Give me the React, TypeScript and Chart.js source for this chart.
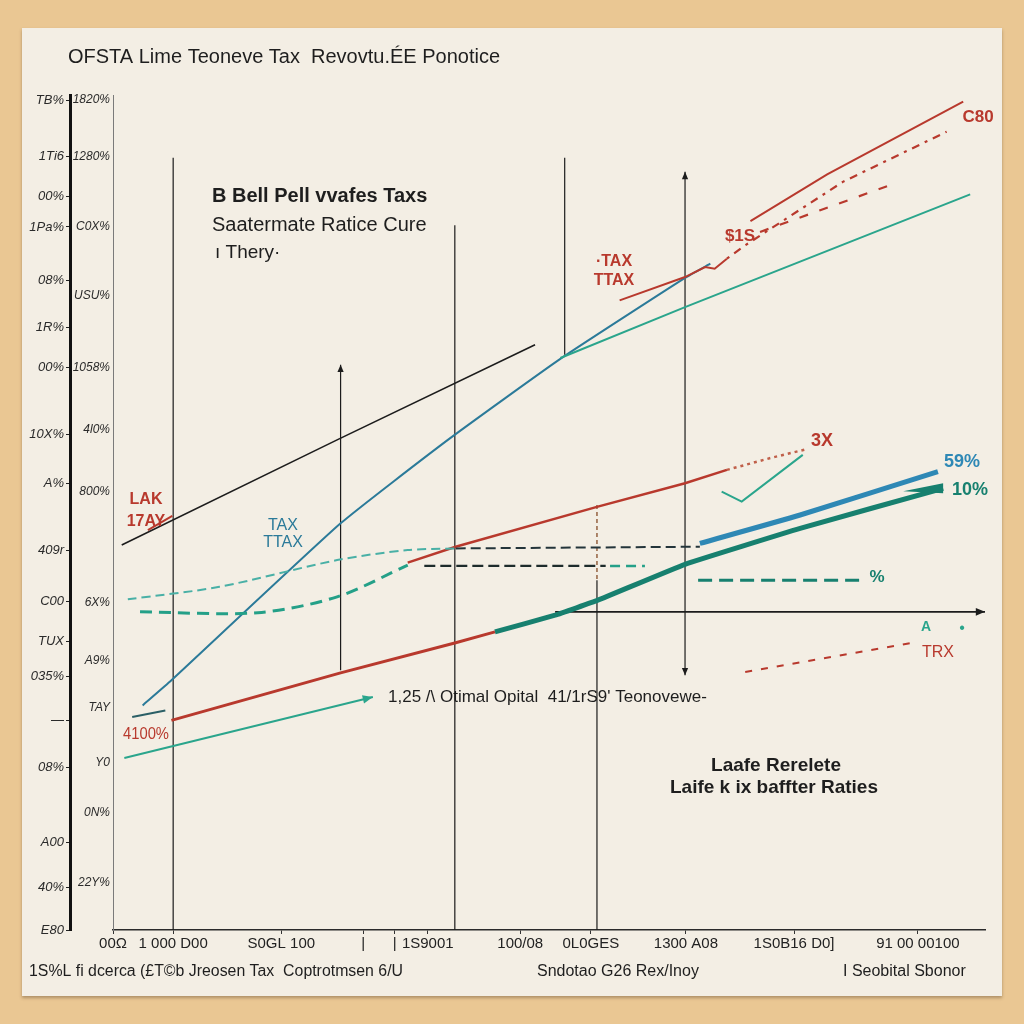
import React, { useEffect, useRef } from "react";
import { Chart, registerables } from "chart.js";
Chart.register(...registerables);

// ---------- tick data ----------
const xTickValues = [0, 6.9, 19.3, 28.7, 32.3, 36.1, 46.7, 54.8, 65.7, 78.1, 92.3];
const xTickLabels = ["00Ω", "1 000 D00", "S0GL 100", "|", "|", "1S9001", "100/08", "0L0GES", "1300 A08", "1S0B16 D0]", "91 00 00100"];

const yOuterValues = [99.4, 92.6, 87.8, 84.2, 77.8, 72.2, 67.4, 59.3, 53.5, 45.5, 39.3, 34.6, 30.4, 25.1, 19.5, 10.5, 5.1, 0];
const yOuterLabels = ["TB%", "1Ti6", "00%", "1Pa%", "08%", "1R%", "00%", "10X%", "A%", "409r", "C00", "TUX", "035%", "—", "08%", "A00", "40%", "E80"];

const yInnerValues = [99.5, 92.6, 84.2, 76.0, 67.4, 59.9, 52.5, 39.2, 32.3, 26.6, 20.0, 14.1, 5.7];
const yInnerLabels = ["1820%", "1280%", "C0X%", "USU%", "1058%", "4l0%", "800%", "6X%", "A9%", "TAY", "Y0", "0N%", "22Y%"];

// ---------- series ----------
const blackX = [1.0, 25.7, 48.4];
const blackY = [46.1, 58.7, 70.1];
const redShortX = [4.0, 6.8];
const redShortY = [47.9, 49.6];
const blueSteepX = [3.4, 6.7, 26.1, 38.4, 51.3, 65.6, 68.5];
const blueSteepY = [26.9, 29.9, 48.7, 58.7, 68.4, 78.1, 79.8];
const redMergeX = [58.1, 65.6, 67.9, 69.0, 70.4];
const redMergeY = [75.4, 78.2, 79.4, 79.2, 80.4];
const redTopX = [73.1, 81.9, 97.5];
const redTopY = [84.9, 90.5, 99.2];
const redDotX = [70.4, 72.5, 83.7, 95.6];
const redDotY = [80.4, 82.0, 89.6, 95.6];
const redDash2X = [74.2, 81.1, 89.1];
const redDash2Y = [83.6, 86.2, 89.2];
const tealUpperX = [51.3, 65.6, 98.3];
const tealUpperY = [68.5, 74.6, 88.1];
const redMidX = [33.8, 39.3, 55.6, 65.6, 70.4];
const redMidY = [44.0, 45.9, 50.7, 53.5, 55.1];
const redMidDashX = [70.4, 75.3, 79.6];
const redMidDashY = [55.1, 56.5, 57.6];
const tealCheckX = [69.8, 72.1, 79.1];
const tealCheckY = [52.5, 51.3, 56.9];
const blue59X = [67.3, 78.8, 94.6];
const blue59Y = [46.3, 49.7, 54.9];
const redLowX = [6.7, 26.1, 39.3, 43.8];
const redLowY = [25.1, 30.8, 34.4, 35.7];
const tealThickX = [43.8, 50.7, 55.6, 65.6, 78.8, 95.2];
const tealThickY = [35.7, 37.7, 39.5, 43.8, 48.1, 52.9];
const tealDashUpX = [1.7, 12.2, 25.7, 33.8, 39.3];
const tealDashUpY = [39.6, 41.1, 44.3, 45.5, 45.7];
const blackDashUpX = [39.3, 67.3];
const blackDashUpY = [45.7, 45.9];
const tealDashLowX = [3.1, 16.6, 25.7, 33.8];
const tealDashLowY = [38.1, 38.0, 39.9, 43.7];
const blackDashLowX = [35.7, 56.5];
const blackDashLowY = [43.6, 43.6];
const tealDashShortX = [57.0, 61.0];
const tealDashShortY = [43.6, 43.6];
const tealDashRightX = [67.1, 85.7];
const tealDashRightY = [41.9, 41.9];
const axisArrowX = [50.7, 100];
const axisArrowY = [38.1, 38.1];
const tealThinX = [1.3, 29.8];
const tealThinY = [20.6, 27.9];
const smallDashX = [2.2, 6.0];
const smallDashY = [25.5, 26.3];
const redBelowX = [72.5, 91.7];
const redBelowY = [30.9, 34.4];

// vertical guide lines
const vLineX = [6.9, 26.1, 39.2, 51.8, 55.5, 65.6];
const vLineTop = [92.5, 67.7, 84.4, 92.5, 41.9, 90.8];
const vLineBottom = [0, 31.1, 0, 68.9, 0, 30.5];
const vDashX = [55.5, 55.5];
const vDashY = [50.9, 41.9];

const RED = "#b8392d";
const BLUE = "#2b7a99";
const TEAL = "#2aa58c";
const TEAL_DARK = "#17806f";
const BLUE59 = "#2e88b5";
const BLACK = "#1c1c1c";
const FONT = "'Liberation Sans Narrow', 'Liberation Sans', Arial, sans-serif";

const pts = (xs: number[], ys: number[]) => xs.map((x, i) => ({ x, y: ys[i] }));

function ds(label: string, xs: number[], ys: number[], color: string, width: number, extra: any = {}) {
  return {
    label,
    data: pts(xs, ys),
    showLine: true,
    borderColor: color,
    backgroundColor: color,
    borderWidth: width,
    pointRadius: 0,
    fill: false,
    clip: false,
    ...extra,
  };
}

const annotPlugin = {
  id: "annot",
  afterDatasetsDraw(chart: any) {
    const ctx = chart.ctx as CanvasRenderingContext2D;
    const sx = chart.scales.x;
    const sy = chart.scales.y;
    const px = (v: number) => sx.getPixelForValue(v);
    const py = (v: number) => sy.getPixelForValue(v);

    const arrow = (x1: number, y1: number, x2: number, y2: number, color: string, size = 9) => {
      const a = Math.atan2(y2 - y1, x2 - x1);
      ctx.save();
      ctx.fillStyle = color;
      ctx.beginPath();
      ctx.moveTo(x2, y2);
      ctx.lineTo(x2 - size * Math.cos(a - 0.4), y2 - size * Math.sin(a - 0.4));
      ctx.lineTo(x2 - size * Math.cos(a + 0.4), y2 - size * Math.sin(a + 0.4));
      ctx.closePath();
      ctx.fill();
      ctx.restore();
    };
    arrow(px(axisArrowX[0]), py(axisArrowY[0]), px(axisArrowX[1]), py(axisArrowY[1]), BLACK, 10);
    arrow(px(tealThinX[0]), py(tealThinY[0]), px(tealThinX[1]), py(tealThinY[1]), TEAL, 11);
    arrow(px(vLineX[1]), py(vLineBottom[1]), px(vLineX[1]), py(vLineTop[1]), BLACK, 8);
    arrow(px(vLineX[5]), py(vLineBottom[5]), px(vLineX[5]), py(vLineTop[5]), BLACK, 8);
    arrow(px(vLineX[5]), py(vLineTop[5]), px(vLineX[5]), py(vLineBottom[5]), BLACK, 8);
    {
      const n = tealThickX.length - 1;
      const x2 = px(tealThickX[n]), y2 = py(tealThickY[n]);
      ctx.save();
      ctx.fillStyle = TEAL_DARK;
      ctx.beginPath();
      ctx.moveTo(x2 - 40, y2 + 3);
      ctx.lineTo(x2, y2 - 5);
      ctx.lineTo(x2, y2 + 5);
      ctx.closePath();
      ctx.fill();
      ctx.restore();
    }

    const t = (
      text: string,
      x: number,
      y: number,
      o: { size?: number; bold?: boolean; color?: string; align?: CanvasTextAlign; maxW?: number; italic?: boolean } = {}
    ) => {
      ctx.save();
      ctx.font = `${o.italic ? "italic " : ""}${o.bold ? "bold " : ""}${o.size || 15}px ${FONT}`;
      ctx.fillStyle = o.color || "#1e1e1e";
      ctx.textAlign = o.align || "left";
      ctx.textBaseline = "middle";
      if (o.maxW) ctx.fillText(text, x, y, o.maxW);
      else ctx.fillText(text, x, y);
      ctx.restore();
    };

    t("OFSTA Lime Teoneve Tax  Revovtu.ÉE Ponotice", 68, 57, { size: 20, maxW: 440 });
    t("B Bell Pell vvafes Taxs", 212, 196, { size: 20, bold: true, maxW: 236 });
    t("Saatermate Ratice Cure", 212, 225, { size: 20, maxW: 230 });
    t("ı Thery·", 215, 253, { size: 19, maxW: 82 });

    t("LAK", 146, 500, { size: 16, bold: true, color: RED, align: "center" });
    t("17AY", 146, 522, { size: 16, bold: true, color: RED, align: "center" });
    t("TAX", 283, 526, { size: 16, color: BLUE, align: "center" });
    t("TTAX", 283, 543, { size: 16, color: BLUE, align: "center" });
    t("·TAX", 614, 262, { size: 16, bold: true, color: RED, align: "center" });
    t("TTAX", 614, 281, { size: 16, bold: true, color: RED, align: "center" });
    t("$1S", 740, 236, { size: 17, bold: true, color: RED, align: "center" });
    t("C80", 978, 117, { size: 17, bold: true, color: RED, align: "center" });
    t("3X", 822, 441, { size: 18, bold: true, color: RED, align: "center" });
    t("59%", 962, 462, { size: 18, bold: true, color: BLUE59, align: "center" });
    t("10%", 970, 490, { size: 18, bold: true, color: TEAL_DARK, align: "center" });
    t("%", 877, 577, { size: 17, bold: true, color: TEAL_DARK, align: "center" });
    t("TRX", 938, 653, { size: 16, color: RED, align: "center" });
    t("A", 926, 627, { size: 14, bold: true, color: TEAL, align: "center" });
    t("•", 962, 629, { size: 16, color: TEAL, align: "center" });
    t("4100%", 146, 735, { size: 16, color: RED, align: "center", maxW: 46 });
    t("1,25 /\\ Otimal Opital  41/1rS9' Teonovewe-", 388, 697, { size: 17, maxW: 372 });
    t("Laafe Rerelete", 776, 766, { size: 19, bold: true, align: "center", maxW: 158 });
    t("Laife k ix baffter Raties", 774, 788, { size: 19, bold: true, align: "center", maxW: 250 });

    t("1S%L fi dcerca (£T©b Jreosen Tax  Coptrotmsen 6/U", 29, 972, { size: 16, maxW: 374 });
    t("Sndotao G26 Rex/Inoy", 537, 972, { size: 16, maxW: 186 });
    t("I Seobital Sbonor", 843, 972, { size: 16, maxW: 150 });
  },
};

export default function App() {
  const ref = useRef<HTMLCanvasElement>(null);

  useEffect(() => {
    if (!ref.current) return;
    const outerMap = new Map(yOuterValues.map((v, i) => [v, yOuterLabels[i]]));
    const innerMap = new Map(yInnerValues.map((v, i) => [v, yInnerLabels[i]]));
    const xMap = new Map(xTickValues.map((v, i) => [v, xTickLabels[i]]));

    const datasets: any[] = [
      ds("black", blackX, blackY, BLACK, 1.6),
      ds("redShort", redShortX, redShortY, RED, 2),
      ds("tealDashUp", tealDashUpX, tealDashUpY, "#49b0a6", 2, { borderDash: [9, 5], tension: 0.3 }),
      ds("tealDashLow", tealDashLowX, tealDashLowY, "#24a088", 3, { borderDash: [12, 7], tension: 0.3 }),
      ds("blackDashUp", blackDashUpX, blackDashUpY, "#23343a", 2, { borderDash: [10, 5] }),
      ds("blackDashLow", blackDashLowX, blackDashLowY, "#1d2b2b", 2.2, { borderDash: [11, 5] }),
      ds("tealDashShort", tealDashShortX, tealDashShortY, "#24a088", 2.5, { borderDash: [10, 6] }),
      ds("tealDashRight", tealDashRightX, tealDashRightY, TEAL_DARK, 3, { borderDash: [14, 7] }),
      ds("redLow", redLowX, redLowY, RED, 3),
      ds("tealThick", tealThickX, tealThickY, TEAL_DARK, 5, { tension: 0.1 }),
      ds("blue59", blue59X, blue59Y, BLUE59, 5, { tension: 0.2 }),
      ds("redMid", redMidX, redMidY, RED, 2.5),
      ds("redMidDash", redMidDashX, redMidDashY, "#c0604a", 2.5, { borderDash: [3, 4] }),
      ds("tealCheck", tealCheckX, tealCheckY, TEAL, 2),
      ds("tealUpper", tealUpperX, tealUpperY, TEAL, 2),
      ds("redMerge", redMergeX, redMergeY, RED, 2),
      ds("blueSteep", blueSteepX, blueSteepY, BLUE, 2, { tension: 0.15 }),
      ds("redTop", redTopX, redTopY, RED, 2),
      ds("redDot", redDotX, redDotY, RED, 2.2, { borderDash: [3, 6, 8, 6] }),
      ds("redDash2", redDash2X, redDash2Y, RED, 2.2, { borderDash: [9, 12] }),
      ds("redBelow", redBelowX, redBelowY, RED, 2, { borderDash: [7, 9] }),
      ds("axisArrow", axisArrowX, axisArrowY, BLACK, 1.6),
      ds("tealThin", tealThinX, tealThinY, TEAL, 2),
      ds("smallDash", smallDashX, smallDashY, "#2b5f66", 2),
      ds("vDash", vDashX, vDashY, "#9a6a4a", 1.6, { borderDash: [4, 3] }),
    ];
    vLineX.forEach((x, i) => {
      datasets.push(ds("v" + i, [x, x], [vLineTop[i], vLineBottom[i]], BLACK, 1.2));
    });

    const chart = new Chart(ref.current, {
      type: "scatter",
      data: { datasets },
      options: {
        animation: false,
        responsive: false,
        devicePixelRatio: 1,
        events: [],
        layout: { padding: { left: 15, right: 39, top: 95, bottom: 70 } },
        elements: { point: { radius: 0 } },
        plugins: { legend: { display: false }, tooltip: { enabled: false }, title: { display: false } },
        scales: {
          x: {
            type: "linear",
            min: 0,
            max: 100,
            afterFit: (s: any) => {
              s.height = 24;
            },
            afterBuildTicks: (s: any) => {
              s.ticks = xTickValues.map((v) => ({ value: v }));
            },
            border: { display: true, color: "#2a2a2a", width: 1.5 },
            grid: { drawOnChartArea: false, drawTicks: true, tickLength: 4, color: "#333" },
            ticks: {
              autoSkip: false,
              maxRotation: 0,
              padding: 1,
              color: "#222",
              font: { family: FONT, size: 15 },
              callback: (v: any) => xMap.get(v) ?? "",
            },
          },
          y: {
            type: "linear",
            position: "left",
            weight: 0,
            min: 0,
            max: 100,
            afterFit: (s: any) => {
              s.width = 43;
            },
            afterBuildTicks: (s: any) => {
              s.ticks = yInnerValues.map((v) => ({ value: v }));
            },
            border: { display: true, color: "#7a7a7a", width: 1 },
            grid: { drawOnChartArea: false, drawTicks: false },
            ticks: {
              autoSkip: false,
              padding: 3,
              color: "#2a2a2a",
              font: { family: FONT, size: 12, style: "italic" },
              callback: (v: any) => innerMap.get(v) ?? "",
            },
          },
          y2: {
            type: "linear",
            position: "left",
            weight: 1,
            min: 0,
            max: 100,
            afterFit: (s: any) => {
              s.width = 55;
            },
            afterBuildTicks: (s: any) => {
              s.ticks = yOuterValues.map((v) => ({ value: v }));
            },
            border: { display: true, color: "#111", width: 3 },
            grid: { drawOnChartArea: false, drawTicks: true, tickLength: 4, color: "#222" },
            ticks: {
              autoSkip: false,
              padding: 2,
              color: "#2a2a2a",
              font: { family: FONT, size: 13, style: "italic" },
              callback: (v: any) => outerMap.get(v) ?? "",
            },
          },
        },
      } as any,
      plugins: [annotPlugin],
    });
    return () => chart.destroy();
  }, []);

  return (
    <div style={{ position: "fixed", left: 0, top: 0, width: 1024, height: 1024, background: "#eac793", overflow: "hidden" }}>
      <div
        style={{
          position: "absolute",
          left: 22,
          top: 28,
          width: 980,
          height: 968,
          background: "#f3eee4",
          boxShadow: "0 2px 3px rgba(60,40,20,0.35)",
        }}
      />
      <canvas ref={ref} width={1024} height={1024} style={{ position: "absolute", left: 0, top: 0, width: 1024, height: 1024 }} />
    </div>
  );
}
